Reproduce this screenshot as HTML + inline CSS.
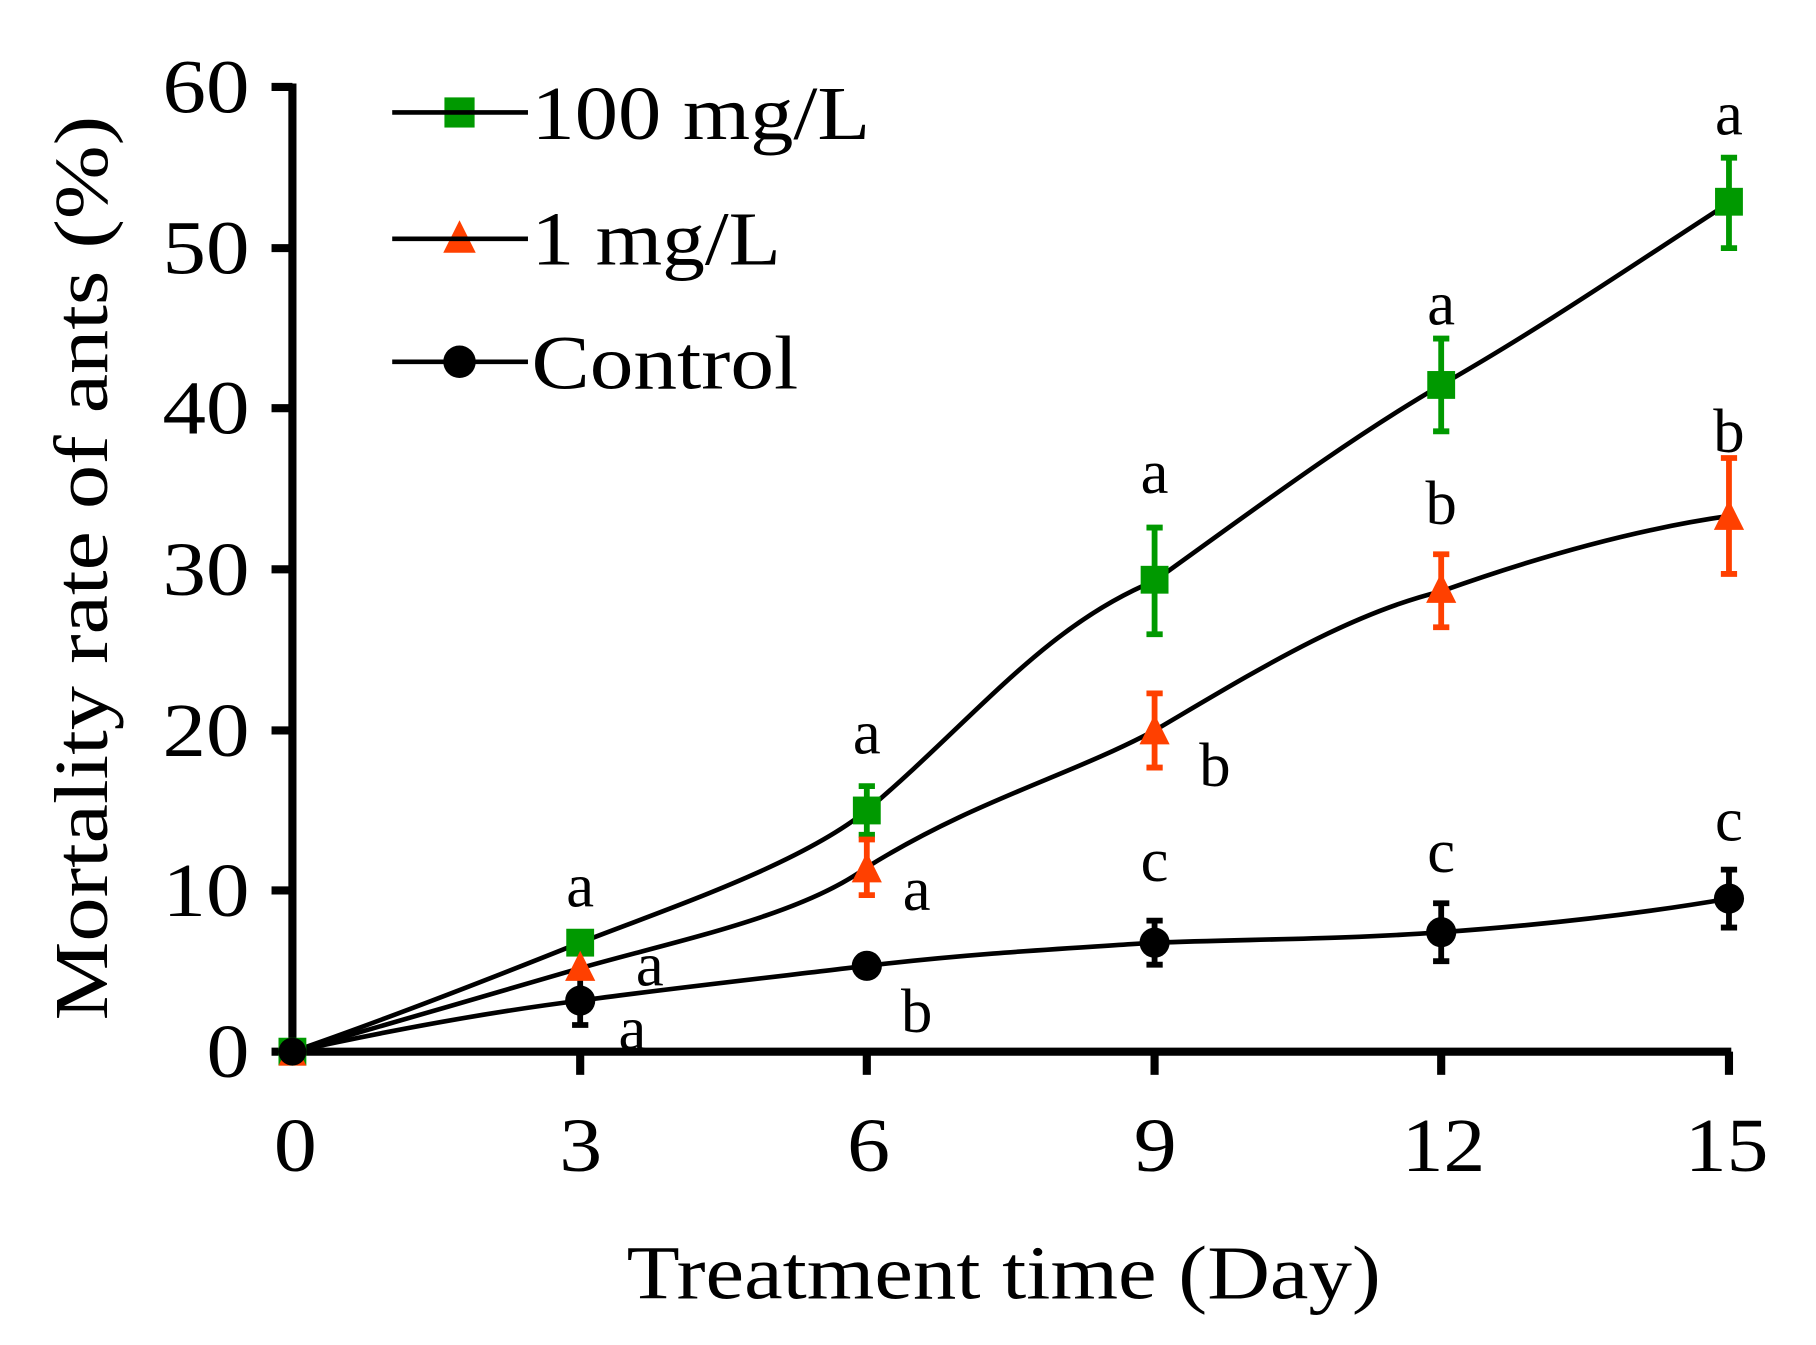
<!DOCTYPE html>
<html><head><meta charset="utf-8"><style>
html,body{margin:0;padding:0;background:#fff}
svg{display:block}
text{font-family:"Liberation Serif",serif;fill:#000}
</style></head><body>
<svg width="1816" height="1345" viewBox="0 0 1565 1160" preserveAspectRatio="none" xmlns="http://www.w3.org/2000/svg">
<rect width="1565" height="1160" fill="#fff"/>
<g stroke="#000" stroke-width="7" fill="none">
<line x1="252" y1="72" x2="252" y2="910"/>
<line x1="249" y1="907" x2="1492" y2="907"/>
<line x1="234" y1="75" x2="252" y2="75"/>
<line x1="234" y1="214" x2="252" y2="214"/>
<line x1="234" y1="352" x2="252" y2="352"/>
<line x1="234" y1="491" x2="252" y2="491"/>
<line x1="234" y1="630" x2="252" y2="630"/>
<line x1="234" y1="768" x2="252" y2="768"/>
<line x1="234" y1="907" x2="252" y2="907"/>
<line x1="500" y1="907" x2="500" y2="927"/>
<line x1="747" y1="907" x2="747" y2="927"/>
<line x1="995" y1="907" x2="995" y2="927"/>
<line x1="1242" y1="907" x2="1242" y2="927"/>
<line x1="1490" y1="907" x2="1490" y2="927"/>
</g>
<g font-size="66">
<text x="140" y="97" textLength="75" lengthAdjust="spacingAndGlyphs">60</text>
<text x="140" y="236" textLength="75" lengthAdjust="spacingAndGlyphs">50</text>
<text x="140" y="374" textLength="75" lengthAdjust="spacingAndGlyphs">40</text>
<text x="140" y="513" textLength="75" lengthAdjust="spacingAndGlyphs">30</text>
<text x="140" y="652" textLength="75" lengthAdjust="spacingAndGlyphs">20</text>
<text x="140" y="790" textLength="75" lengthAdjust="spacingAndGlyphs">10</text>
<text x="178" y="929" textLength="37" lengthAdjust="spacingAndGlyphs">0</text>
<text x="236" y="1010" textLength="37" lengthAdjust="spacingAndGlyphs">0</text>
<text x="482" y="1010" textLength="37" lengthAdjust="spacingAndGlyphs">3</text>
<text x="730" y="1010" textLength="37" lengthAdjust="spacingAndGlyphs">6</text>
<text x="977" y="1010" textLength="37" lengthAdjust="spacingAndGlyphs">9</text>
<text x="1208" y="1010" textLength="72" lengthAdjust="spacingAndGlyphs">12</text>
<text x="1452" y="1010" textLength="72" lengthAdjust="spacingAndGlyphs">15</text>
</g>
<text x="865" y="1120" font-size="66" text-anchor="middle" textLength="650" lengthAdjust="spacingAndGlyphs">Treatment  time  (Day)</text>
<text transform="translate(92,490) rotate(-90)" font-size="66" text-anchor="middle" textLength="780" lengthAdjust="spacingAndGlyphs">Mortality  rate of ants (%)</text>
<g stroke="#000" stroke-width="4" fill="none">
<path d="M252,907 C330,880 420,845 500,813 C580,782 690,745 747,699 C840,620 900,540 995,501 C1080,440 1160,380 1242,332 C1330,282 1420,220 1490,175"/>
<path d="M252,907 C330,885 420,858 500,835 C580,812 690,790 747,748 C840,690 920,670 995,630 C1080,580 1160,530 1242,510 C1340,475 1420,455 1490,445"/>
<path d="M252,907 C330,890 420,873 500,863 C580,852 690,840 747,833 C840,822 920,818 995,813 C1080,810 1160,810 1242,804 C1340,797 1420,787 1490,775"/>
</g>
<g stroke-width="5" fill="none">
<path stroke="#009900" d="M747,678V720M740,678H754M740,720H754 M995,455V547M988,455H1002M988,547H1002 M1242,292V372M1235,292H1249M1235,372H1249 M1490,136V214M1483,136H1497M1483,214H1497"/>
<path stroke="#ff4000" d="M747,724V772M740,724H754M740,772H754 M995,598V662M988,598H1002M988,662H1002 M1242,478V541M1235,478H1249M1235,541H1249 M1490,395V495M1483,395H1497M1483,495H1497"/>
<path stroke="#000" d="M500,842V884M493,884H507 M995,794V832M988,794H1002M988,832H1002 M1242,779V829M1235,779H1249M1235,829H1249 M1490,750V800M1483,750H1497M1483,800H1497"/>
</g>
<g fill="#009900">
<rect x="240" y="895" width="24" height="24"/>
<rect x="488" y="801" width="24" height="24"/>
<rect x="735" y="687" width="24" height="24"/>
<rect x="983" y="488" width="24" height="24"/>
<rect x="1230" y="320" width="24" height="24"/>
<rect x="1478" y="162" width="24" height="24"/>
<rect x="383" y="84" width="26" height="26"/>
</g>
<g fill="#ff4000">
<polygon points="252,895 264,919 240,919"/>
<polygon points="500,820 513,846 487,846"/>
<polygon points="747,735 760,761 734,761"/>
<polygon points="995,616 1008,642 982,642"/>
<polygon points="1242,494 1255,520 1229,520"/>
<polygon points="1490,431 1503,457 1477,457"/>
<polygon points="396,190 410,218 382,218"/>
</g>
<g fill="#000">
<circle cx="252" cy="907" r="12"/>
<circle cx="500" cy="863" r="13"/>
<circle cx="747" cy="833" r="13"/>
<circle cx="995" cy="813" r="13"/>
<circle cx="1242" cy="804" r="13"/>
<circle cx="1490" cy="775" r="13"/>
<circle cx="396" cy="312" r="14"/>
</g>
<g stroke="#000" stroke-width="4">
<line x1="338" y1="97" x2="455" y2="97"/>
<line x1="338" y1="206" x2="455" y2="206"/>
<line x1="338" y1="312" x2="455" y2="312"/>
</g>
<g font-size="66">
<text x="458" y="120" textLength="292" lengthAdjust="spacingAndGlyphs">100 mg/L</text>
<text x="458" y="228" textLength="215" lengthAdjust="spacingAndGlyphs">1 mg/L</text>
<text x="458" y="335" textLength="230" lengthAdjust="spacingAndGlyphs">Control</text>
</g>
<g font-size="54" text-anchor="middle">
<text x="500" y="782">a</text><text x="560" y="850">a</text><text x="545" y="905">a</text>
<text x="747" y="650">a</text><text x="790" y="785">a</text><text x="790" y="890">b</text>
<text x="995" y="425">a</text><text x="1047" y="678">b</text><text x="995" y="760">c</text>
<text x="1242" y="280">a</text><text x="1242" y="452">b</text><text x="1242" y="752">c</text>
<text x="1490" y="116">a</text><text x="1490" y="390">b</text><text x="1490" y="725">c</text>
</g>
</svg>
</body></html>
